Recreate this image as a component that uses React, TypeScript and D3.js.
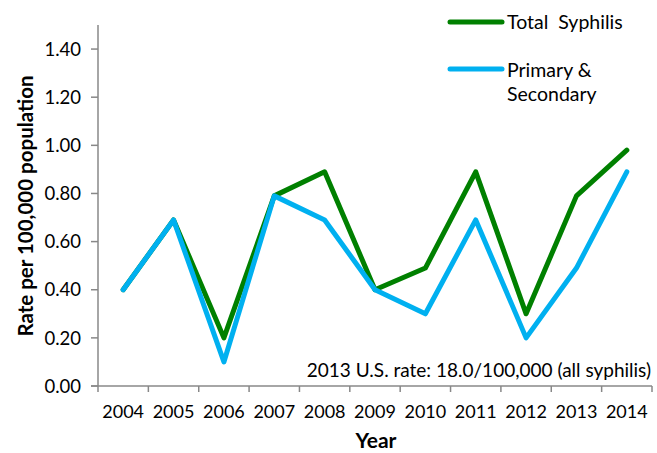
import React from "react";
import * as d3 from "d3";

const years = ["2004","2005","2006","2007","2008","2009","2010","2011","2012","2013","2014"];
const totalSyphilis = [0.40, 0.69, 0.20, 0.79, 0.89, 0.40, 0.49, 0.89, 0.30, 0.79, 0.98];
const primarySecondary = [0.40, 0.69, 0.10, 0.79, 0.69, 0.40, 0.30, 0.69, 0.20, 0.49, 0.89];
const yTicks = [0, 0.2, 0.4, 0.6, 0.8, 1.0, 1.2, 1.4];

const W = 657, H = 453;
const left = 98, right = 652, top = 25, bottom = 386;
const font = "'Gill Sans', 'Gill Sans MT', Lato, sans-serif";

export default function App() {
  const x = d3.scaleBand<string>().domain(years).range([left, right]);
  const y = d3.scaleLinear().domain([0, 1.5]).range([bottom, top]);
  const line = d3.line<number>()
    .x((_, i) => (x(years[i]) as number) + x.bandwidth() / 2)
    .y((d) => y(d));
  const boundaries = years.map((yr) => x(yr) as number).concat([right]);
  return (
    <svg width={W} height={H} style={{ position: "absolute", left: 0, top: 0 }} fontFamily={font}>
      <rect width={W} height={H} fill="#fff" />
      {/* y axis */}
      <line x1={left} x2={left} y1={top} y2={bottom} stroke="#888" strokeWidth={1.5} />
      {yTicks.map((t) => (
        <g key={t}>
          <line x1={left - 7} x2={left} y1={y(t)} y2={y(t)} stroke="#888" strokeWidth={1.5} />
          <text x={81} y={y(t)} dy="0.36em" textAnchor="end" fontSize={18.5} fill="#000">{t.toFixed(2)}</text>
        </g>
      ))}
      {/* x axis */}
      <line x1={left - 7} x2={right} y1={bottom} y2={bottom} stroke="#888" strokeWidth={1.5} />
      {boundaries.map((b, i) => (
        <line key={i} x1={b} x2={b} y1={bottom} y2={bottom + 6} stroke="#888" strokeWidth={1.5} />
      ))}
      {years.map((yr) => (
        <text key={yr} x={(x(yr) as number) + x.bandwidth() / 2} y={418} textAnchor="middle" fontSize={18} fill="#000">{yr}</text>
      ))}
      <text x={376} y={448} textAnchor="middle" fontSize={21} fontWeight="bold" fill="#000">Year</text>
      <text transform={`translate(33,206) rotate(-90)`} textAnchor="middle" fontSize={20.5} fontWeight="bold" fill="#000">Rate per 100,000 population</text>
      <text x={651} y={377} textAnchor="end" fontSize={19} fill="#000">2013 U.S. rate: 18.0/100,000 (all syphilis)</text>
      {/* lines */}
      <path d={line(totalSyphilis) ?? ""} fill="none" stroke="#008000" strokeWidth={5} strokeLinejoin="round" strokeLinecap="round" />
      <path d={line(primarySecondary) ?? ""} fill="none" stroke="#00B0F0" strokeWidth={5} strokeLinejoin="round" strokeLinecap="round" />
      {/* legend */}
      <line x1={450} x2={502} y1={22} y2={22} stroke="#008000" strokeWidth={5} strokeLinecap="round" />
      <text x={507} y={29} fontSize={19.5} fill="#000" style={{ whiteSpace: "pre" }}>Total  Syphilis</text>
      <line x1={450} x2={502} y1={69} y2={69} stroke="#00B0F0" strokeWidth={5} strokeLinecap="round" />
      <text x={507} y={77} fontSize={19.5} fill="#000">Primary &amp;</text>
      <text x={507} y={101} fontSize={19.5} fill="#000">Secondary</text>
    </svg>
  );
}
